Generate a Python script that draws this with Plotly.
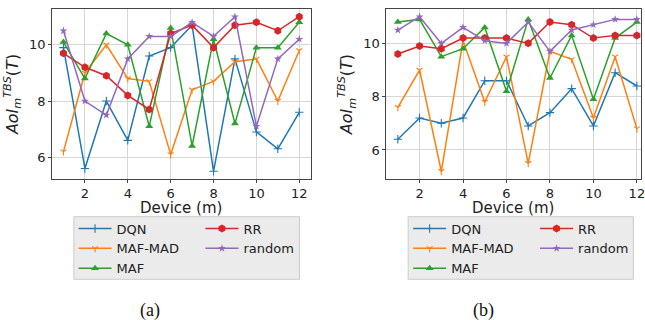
import plotly.graph_objects as go

devices = list(range(1, 13))
x_tick_vals = [2, 4, 6, 8, 10, 12]
y_tick_vals = [6, 8, 10]
series_names = ["DQN", "MAF-MAD", "MAF", "RR", "random"]

a_dqn = [9.9, 5.6, 8.0, 6.6, 9.6, 9.9, 10.7, 5.5, 9.5, 6.9, 6.3, 7.6]
a_mafmad = [6.2, 9.0, 10.0, 8.8, 8.7, 6.1, 8.4, 8.7, 9.4, 9.5, 8.0, 9.8]
a_maf = [10.1, 8.8, 10.4, 10.0, 7.1, 10.6, 6.4, 10.2, 7.2, 9.9, 9.9, 10.8]
a_rr = [9.7, 9.2, 8.9, 8.2, 7.7, 10.4, 10.7, 9.9, 10.7, 10.8, 10.5, 11.0]
a_random = [10.5, 8.0, 7.5, 9.5, 10.3, 10.3, 10.8, 10.3, 11.0, 7.1, 9.5, 10.2]

b_dqn = [6.4, 7.2, 7.0, 7.2, 8.6, 8.6, 6.9, 7.4, 8.3, 6.9, 8.9, 8.4]
b_mafmad = [7.6, 9.0, 5.2, 10.1, 7.8, 9.5, 5.5, 9.7, 9.4, 7.2, 9.5, 6.8]
b_maf = [10.8, 10.9, 9.5, 9.8, 10.6, 8.2, 10.9, 8.7, 10.3, 7.9, 10.2, 10.8]
b_rr = [9.6, 9.9, 9.8, 10.2, 10.2, 10.2, 10.0, 10.8, 10.7, 10.2, 10.3, 10.3]
b_random = [10.5, 11.0, 10.0, 10.6, 10.1, 10.0, 10.8, 9.7, 10.5, 10.7, 10.9, 10.9]

W, H = 645, 320
colors = ["#1f77b4", "#ff7f0e", "#2ca02c", "#d62728", "#9467bd"]
markers = [
    dict(symbol="cross-thin", size=6, line=dict(width=1.1, color=colors[0])),
    dict(symbol="y-down", size=5, line=dict(width=1.1, color=colors[1])),
    dict(symbol="triangle-up", size=7, color=colors[2]),
    dict(symbol="hexagon", size=8, color=colors[3]),
    dict(symbol="star", size=6, color=colors[4]),
]

fig = go.Figure()

panels = [
    ("x", "y", [a_dqn, a_mafmad, a_maf, a_rr, a_random], ["legend", "legend", "legend", "legend2", "legend2"]),
    ("x2", "y2", [b_dqn, b_mafmad, b_maf, b_rr, b_random], ["legend3", "legend3", "legend3", "legend4", "legend4"]),
]
for xa, ya, data, legs in panels:
    for i, (name, vals) in enumerate(zip(series_names, data)):
        m = dict(markers[i])
        if "color" not in m:
            m["color"] = colors[i]
        fig.add_trace(go.Scatter(
            x=devices, y=vals, name=name, mode="lines+markers",
            line=dict(color=colors[i], width=1.5), marker=m,
            xaxis=xa, yaxis=ya, legend=legs[i],
        ))

def px_x(p):
    return p / W

def px_y(p):
    return 1 - p / H

font = dict(family="DejaVu Sans", color="#222222")
axis_common = dict(
    showgrid=True, gridcolor="#d6d6d6", gridwidth=1.4,
    showline=True, linecolor="#444444", linewidth=1, mirror=True,
    ticks="outside", ticklen=2.5, tickcolor="#444444", tickwidth=1,
    zeroline=False, ticklabeloverflow="allow",
    tickfont=dict(family="DejaVu Sans", size=13, color="#222222"),
)
ytitle = "<i>AoI</i><sub><i>m</i></sub><sup><i>TBS</i></sup>(<i>T</i>)"

fig.update_layout(
    width=W, height=H, margin=dict(l=0, r=0, t=0, b=0),
    paper_bgcolor="white", plot_bgcolor="white", font=font,
    xaxis=dict(domain=[px_x(52), px_x(313)], range=[0.45, 12.55], tickvals=x_tick_vals,
               anchor="y", **axis_common),
    yaxis=dict(domain=[px_y(179), px_y(9)], range=[5.225, 11.275], tickvals=y_tick_vals,
               anchor="x", title=dict(text=ytitle, font=dict(size=16), standoff=6), **axis_common),
    xaxis2=dict(domain=[px_x(388.3), 1.0], range=[0.45, 12.19], tickvals=x_tick_vals,
                anchor="y2", **axis_common),
    yaxis2=dict(domain=[px_y(179), px_y(9)], range=[4.91, 11.29], tickvals=y_tick_vals,
                anchor="x2", title=dict(text=ytitle, font=dict(size=16), standoff=6), **axis_common),
)

leg_common = dict(bgcolor="rgba(0,0,0,0)", borderwidth=0, orientation="v",
                  font=dict(family="DejaVu Sans", size=13, color="#222222"),
                  xanchor="left", yanchor="top", tracegroupgap=0, itemwidth=33)
fig.update_layout(
    legend=dict(x=px_x(74), y=px_y(213.5), **leg_common),
    legend2=dict(x=px_x(201.7), y=px_y(213.5), **leg_common),
    legend3=dict(x=px_x(410.7), y=px_y(213.5), **leg_common),
    legend4=dict(x=px_x(538.4), y=px_y(213.5), **leg_common),
)

for x0, x1 in [(74.3, 301.3), (410.7, 637.3)]:
    fig.add_shape(type="rect", xref="paper", yref="paper",
                  x0=px_x(x0), x1=px_x(x1), y0=px_y(279.3), y1=px_y(216.7),
                  fillcolor="#ebebeb", line=dict(color="#cccccc", width=1), layer="below")

for cx in [182.5, 516.5]:
    fig.add_annotation(text="Device (m)", x=px_x(cx), y=px_y(208), xref="paper", yref="paper",
                       showarrow=False, xanchor="center", yanchor="middle",
                       font=dict(family="DejaVu Sans", size=15, color="#222222"))

for label, cx in [("(a)", 150.7), ("(b)", 486.7)]:
    fig.add_annotation(text=label, x=px_x(cx), y=px_y(310.7), xref="paper", yref="paper",
                       showarrow=False, xanchor="center", yanchor="middle",
                       font=dict(family="Liberation Serif", size=18, color="#111111"))

fig.write_html("out.html", config={"displayModeBar": False},
               post_script="document.body.style.margin='0px';")
